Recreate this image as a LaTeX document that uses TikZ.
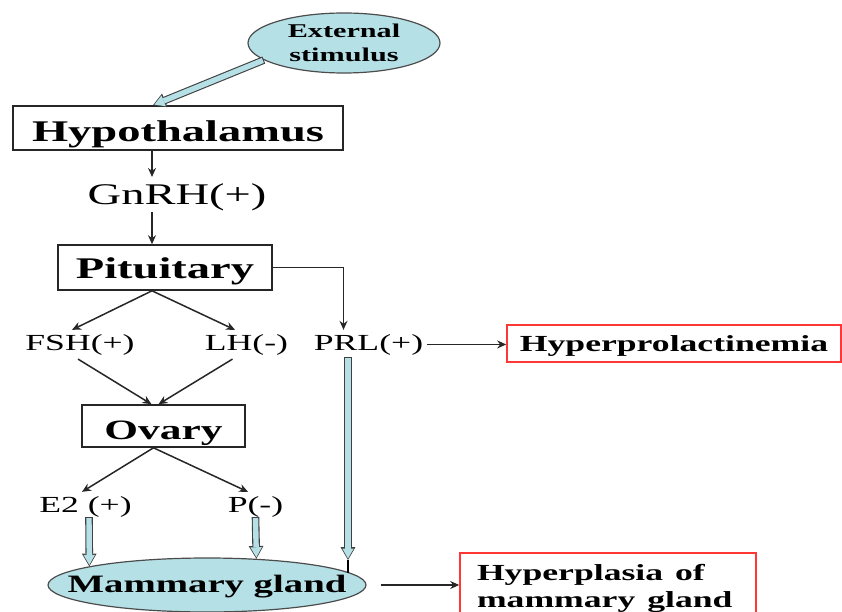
\documentclass[tikz,border=0pt]{standalone}
\usepackage{fontspec}
\setmainfont{Liberation Serif}
\usepackage{graphicx}
\usetikzlibrary{shapes.geometric, arrows.meta}
\definecolor{paleblue}{RGB}{180,224,230}
\definecolor{boxred}{RGB}{255,55,55}
\newcommand{\wide}[1]{\scalebox{1.55}[1]{#1}}
\tikzstyle{arrow} = [line width=1.5pt, draw=black!85, -{Stealth[length=9pt,width=8pt]}]
\tikzstyle{pipe} = [draw=paleblue, line width=5.4pt, shorten <=1pt, shorten >=1.5pt, -{Triangle[length=10pt,width=11.5pt,line width=0pt]}, preaction={draw=black!75, line width=7.6pt, shorten <=0pt, shorten >=0pt, -{Triangle[length=12.8pt,width=14.8pt,line width=0pt]}}]
\tikzstyle{blob} = [ellipse, draw=black!70, fill=paleblue, line width=1.2pt, inner sep=0pt]
\tikzstyle{box} = [rectangle, draw=black!85, line width=1.6pt, inner sep=0pt, font=\fontsize{30}{36}\selectfont\bfseries]
\tikzstyle{redbox} = [rectangle, draw=boxred, line width=1.6pt, font=\fontsize{23}{27}\selectfont\bfseries]
\tikzstyle{hormone} = [inner sep=4pt, anchor=base, font=\fontsize{23}{27}\selectfont]

\begin{document}
\begin{tikzpicture}[x=1pt, y=-1pt]
        \useasboundingbox (0,0) rectangle (842,612);

        \node[blob, minimum width=192pt, minimum height=60pt, align=center, font=\fontsize{19.5}{24}\selectfont\bfseries] (ext) at (344,43) {\wide{External}\\\wide{stimulus}};
        \node[box, minimum width=330pt, minimum height=44pt, text height=28pt, text depth=0pt] (hypo) at (178,128) {\wide{Hypothalamus}};
        \node[hormone, inner sep=0pt, font=\fontsize{30}{36}\selectfont] (gnrh) at (177,205) {\wide{GnRH(+)}};
        \node[box, minimum width=214pt, minimum height=45pt, text height=21pt, text depth=0pt] (pit) at (165,267.5) {\wide{Pituitary}};
        \node[hormone] (fsh) at (80,350) {\wide{FSH(+)}};
        \node[hormone] (lh) at (246.5,350) {\wide{LH(-)}};
        \node[hormone] (prl) at (368.5,350) {\wide{PRL(+)}};
        \node[redbox, minimum width=334pt, minimum height=37pt, text height=15pt, text depth=0pt, inner sep=0pt] (hprl) at (674,343.5) {\wide{Hyperprolactinemia}};
        \node[box, minimum width=163pt, minimum height=42pt, text height=26pt, text depth=0pt, font=\fontsize{28}{34}\selectfont\bfseries] (ovary) at (163.5,426) {\wide{Ovary}};
        \node[hormone] (e2) at (85.5,512) {\wide{E2 (+)}};
        \node[hormone] (p) at (255.5,512) {\wide{P(-)}};
        \node[blob, minimum width=318pt, minimum height=54pt, text height=17pt, text depth=3pt, font=\fontsize{25}{30}\selectfont\bfseries] (mam) at (207,585) {\makebox[0pt]{\wide{Mammary gland}}};
        \node[redbox, anchor=north, text width=262pt, align=left, inner xsep=17pt, inner ysep=11pt] (hplas) at (608,552) {\wide{Hyperplasia of}\\\wide{mammary gland}};
        \coordinate (prltip) at (348,560);

        % Pipes - pale blue
        \draw[pipe] (ext.192) -- ([xshift=-25pt]hypo.north);
        \draw[pipe] ([xshift=3.5pt,yshift=4pt]e2.south) -- (mam.171);
        \draw[pipe] ([yshift=4pt]p.south) -- (mam.28);
        \draw[pipe] ([xshift=-20.5pt,yshift=2pt]prl.south) -- (prltip);
        \draw[line width=1.5pt] (prltip) -- (prltip |- mam.5);

        % Arrows - black
        \draw[arrow] ([xshift=-26pt]hypo.south) -- ([xshift=-25pt,yshift=7pt]gnrh.north);
        \draw[arrow] ([xshift=-25pt]gnrh.south) -- ([xshift=-13pt]pit.north);
        \draw[arrow] (pit.east) -| ([xshift=-25pt]prl.north);
        \draw[arrow] ([xshift=-13pt]pit.south) -- ([xshift=-8pt]fsh.north);
        \draw[arrow] ([xshift=-13pt]pit.south) -- ([xshift=-11.5pt]lh.north);
        \draw[arrow] ([xshift=-2pt]fsh.south) -- ([xshift=-12pt]ovary.north);
        \draw[arrow] ([xshift=-14pt]lh.south) -- ([xshift=-5pt]ovary.north);
        \draw[arrow] (prl.east) -- (prl.east -| hprl.west);
        \draw[arrow] ([xshift=-10pt]ovary.south) -- ([xshift=-3.5pt]e2.north);
        \draw[arrow] ([xshift=-10pt]ovary.south) -- ([xshift=-7.5pt]p.north);
        \draw[arrow, shorten <=14pt] (mam.east) -- (mam.east -| hplas.west);
      \end{tikzpicture}
\end{document}
